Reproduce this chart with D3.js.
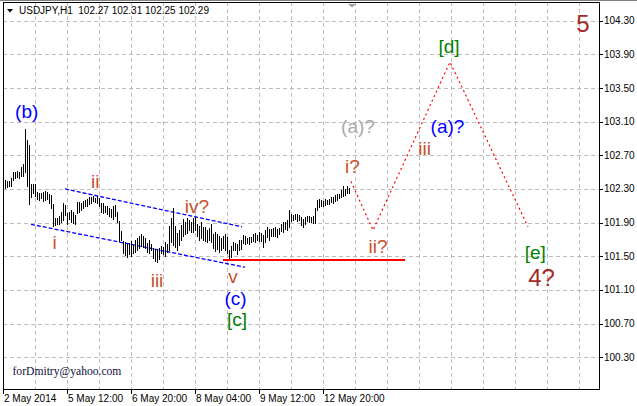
<!DOCTYPE html>
<html><head><meta charset="utf-8">
<script src="https://cdn.jsdelivr.net/npm/d3@7"></script>
<style>html,body{margin:0;padding:0;background:#fff;overflow:hidden} svg{display:block}</style>
</head><body>
<svg id="c" width="637" height="406"></svg>
<script>
// ---- data ----
const symbol = "USDJPY,H1";
const lastQuote = [102.27, 102.31, 102.25, 102.29];
const highs = [102.41,102.40,102.40,102.43,102.50,102.50,102.51,102.50,102.56,102.60,
103.01,102.88,102.82,102.36,102.36,102.36,102.26,102.25,102.25,102.26,
102.28,102.26,102.24,102.23,102.12,101.96,101.96,101.98,102.03,102.13,
102.11,102.01,102.03,102.05,102.03,101.99,102.15,102.15,102.13,102.16,
102.17,102.18,102.20,102.20,102.22,102.19,102.22,102.19,102.13,102.13,
102.10,102.10,102.07,102.06,102.10,102.11,102.03,101.92,101.80,101.68,
101.67,101.65,101.66,101.68,101.63,101.69,101.72,101.74,101.77,101.74,
101.72,101.66,101.69,101.65,101.60,101.59,101.58,101.60,101.62,101.61,
101.67,101.65,101.86,101.96,102.07,101.86,101.78,101.81,101.87,101.94,
101.91,101.96,101.93,101.91,101.96,101.97,101.88,101.86,101.91,101.85,
101.85,101.81,101.84,101.88,101.77,101.79,101.77,101.74,101.72,101.74,
101.77,101.73,101.58,101.62,101.67,101.66,101.65,101.69,101.69,101.75,
101.74,101.72,101.73,101.73,101.77,101.78,101.75,101.79,101.78,101.75,
101.81,101.85,101.82,101.82,101.84,101.85,101.82,101.84,101.88,101.91,
101.91,101.93,102.05,102.00,101.99,102.00,102.00,101.99,101.97,101.94,
101.97,101.98,101.98,101.97,101.98,102.07,102.17,102.18,102.17,102.16,
102.18,102.17,102.18,102.20,102.20,102.23,102.24,102.24,102.29,102.34,
102.30,102.34,102.31];
const lows = [102.31,102.32,102.34,102.34,102.41,102.43,102.44,102.43,102.45,102.45,
102.50,102.34,102.12,102.20,102.25,102.22,102.18,102.17,102.19,102.16,
102.17,102.18,102.13,102.07,101.86,101.87,101.88,101.88,101.91,101.93,
101.99,101.88,101.94,101.91,101.90,101.88,102.01,102.03,102.05,102.07,
102.10,102.10,102.12,102.13,102.16,102.15,102.13,102.10,102.03,102.01,
102.03,102.00,101.98,101.97,101.94,101.98,101.91,101.68,101.69,101.54,
101.52,101.49,101.53,101.50,101.54,101.55,101.58,101.60,101.62,101.61,
101.60,101.55,101.54,101.58,101.48,101.44,101.43,101.47,101.54,101.53,
101.50,101.55,101.58,101.67,101.63,101.61,101.58,101.63,101.69,101.74,
101.77,101.78,101.81,101.79,101.79,101.81,101.74,101.69,101.72,101.69,
101.68,101.67,101.69,101.67,101.60,101.56,101.59,101.55,101.58,101.60,
101.58,101.54,101.46,101.49,101.58,101.58,101.53,101.58,101.59,101.66,
101.65,101.66,101.65,101.67,101.68,101.67,101.69,101.68,101.68,101.61,
101.67,101.73,101.69,101.74,101.74,101.74,101.73,101.77,101.80,101.79,
101.82,101.81,101.85,101.92,101.93,101.94,101.92,101.93,101.87,101.85,
101.88,101.92,101.91,101.91,101.90,101.90,102.05,102.09,102.10,102.10,
102.11,102.12,102.12,102.15,102.13,102.16,102.17,102.19,102.20,102.22,
102.23,102.25,102.25];
const priceTicks = [104.30,103.90,103.50,103.10,102.70,102.30,101.90,101.50,101.10,100.70,100.30];
const timeLabels = ["2 May 2014","5 May 12:00","6 May 20:00","8 May 04:00","9 May 12:00","12 May 20:00"];
const timeIndex = [-1, 31, 63, 95, 127, 159];
// projected wave path (bar index, price)
const waveIndex = [173, 184, 222.5, 261.5];
const wavePrice = [102.39, 101.81, 103.81, 101.85];
// support line
const supportIndex = [109, 200];
const supportPrice = 101.46;
// channel
const upperIndex = [30, 118.5], upperPrice = [102.30, 101.85];
const lowerIndex = [13, 120], lowerPrice = [101.88, 101.37];
// wave labels
const labelText  = ["(b)","i","ii","iii","iv?","v","(c)","[c]","i?","ii?","iii","(a)?","(a)?","[d]","[e]","4?","5"];
const labelIndex = [10.85,24.85,45.15,76,96,114,115.25,116,173.75,186.5,209.85,176.5,221.25,222,265.15,268.25,289];
const labelPrice = [103.14,101.59,102.31,101.14,102.02,101.18,100.92,100.67,102.49,101.54,102.70,102.96,102.96,103.92,101.47,101.15,104.17];
const labelKind  = ["blue","minor","minor","minor","minor","minor","blue","green","minor","minor","minor","gray","blue","green","green","big","big"];
const watermark = "forDmitry@yahoo.com";

// ---- drawing ----
const svg = d3.select("#c");
const L = 3, R = 599, T = 2, B = 389;
const x = d3.scaleLinear().domain([-1, 297]).range([L, R]);
const y = d3.scaleLinear().domain([99.923, 104.522]).range([B, T]);
const kindColor = {blue:"#0000ff", minor:"#c8502a", green:"#008000", gray:"#a9a9a9", big:"#a52a2a"};
const kindSize = {blue:19, minor:19, green:19, gray:19, big:24};
const font = "'Liberation Sans', Arial, sans-serif";

svg.append("rect").attr("width",637).attr("height",406).attr("fill","#fff");

// grid
const grid = svg.append("g").attr("stroke","#bdbdbd").attr("stroke-dasharray","4,3").attr("shape-rendering","crispEdges");
grid.selectAll("line.h").data(priceTicks).join("line").attr("class","h")
  .attr("x1",L).attr("x2",R).attr("y1",d=>Math.round(y(d))+0.5).attr("y2",d=>Math.round(y(d))+0.5);
grid.selectAll("line.v").data(d3.range(15, 297, 16)).join("line").attr("class","v")
  .attr("y1",T).attr("y2",B).attr("x1",d=>Math.round(x(d))+0.5).attr("x2",d=>Math.round(x(d))+0.5);

// watermark
svg.append("text").attr("x",12.5).attr("y",375).attr("font-family","'Liberation Serif', 'Times New Roman', serif")
  .attr("font-size",11.6).attr("fill","#101040").text(watermark);

// channel lines
const chan = svg.append("g").attr("stroke","#0000ff").attr("stroke-width",1.3).attr("stroke-dasharray","4,2").attr("fill","none");
chan.append("line").attr("x1",x(upperIndex[0])).attr("y1",y(upperPrice[0])).attr("x2",x(upperIndex[1])).attr("y2",y(upperPrice[1]));
chan.append("line").attr("x1",x(lowerIndex[0])).attr("y1",y(lowerPrice[0])).attr("x2",x(lowerIndex[1])).attr("y2",y(lowerPrice[1]));

// bars
svg.append("g").attr("stroke","#000").attr("shape-rendering","crispEdges")
  .selectAll("line").data(highs.map((h,i)=>({i,h,l:lows[i]}))).join("line")
  .attr("x1",d=>Math.round(x(d.i))+0.5).attr("x2",d=>Math.round(x(d.i))+0.5)
  .attr("y1",d=>Math.round(y(d.h))).attr("y2",d=>Math.round(y(d.l))+1);

// support line
svg.append("line").attr("stroke","#ff0000").attr("stroke-width",2).attr("shape-rendering","crispEdges")
  .attr("x1",x(supportIndex[0])).attr("x2",x(supportIndex[1]))
  .attr("y1",Math.round(y(supportPrice))).attr("y2",Math.round(y(supportPrice)));

// wave path
svg.append("path").attr("fill","none").attr("stroke","#ff0000").attr("stroke-width",1.2).attr("stroke-dasharray","2,3")
  .attr("d", d3.line().x(d=>x(d[0])).y(d=>y(d[1]))(waveIndex.map((v,i)=>[v,wavePrice[i]])));

// labels
svg.append("g").selectAll("text").data(labelText.map((t,i)=>({t,i:labelIndex[i],p:labelPrice[i],k:labelKind[i]}))).join("text")
  .attr("x",d=>x(d.i)).attr("y",d=>y(d.p)).attr("text-anchor","middle")
  .attr("font-family",font).attr("font-size",d=>kindSize[d.k]).attr("fill",d=>kindColor[d.k]).text(d=>d.t);

// frame
svg.append("line").attr("x1",0).attr("x2",637).attr("y1",0.5).attr("y2",0.5).attr("stroke","#808080");
svg.append("rect").attr("x",L+0.5).attr("y",T+0.5).attr("width",R-L).attr("height",B-T)
  .attr("fill","none").attr("stroke","#000").attr("shape-rendering","crispEdges");

// right axis
const ra = svg.append("g");
ra.selectAll("line").data(priceTicks).join("line").attr("stroke","#000").attr("shape-rendering","crispEdges")
  .attr("x1",R).attr("x2",R+4).attr("y1",d=>Math.round(y(d))+0.5).attr("y2",d=>Math.round(y(d))+0.5);
ra.selectAll("text").data(priceTicks).join("text").attr("x",R+5).attr("y",d=>y(d)+3.5)
  .attr("font-family",font).attr("font-size",10).attr("fill","#000").text(d=>d.toFixed(2));

// bottom axis
const ba = svg.append("g");
ba.selectAll("line").data(timeIndex).join("line").attr("stroke","#000").attr("shape-rendering","crispEdges")
  .attr("x1",d=>Math.round(x(d))+0.5).attr("x2",d=>Math.round(x(d))+0.5).attr("y1",B).attr("y2",B+5);
ba.selectAll("text").data(timeLabels).join("text").attr("x",(d,i)=>x(timeIndex[i])+1).attr("y",401.5)
  .attr("font-family",font).attr("font-size",10).attr("fill","#000").text(d=>d);

// title
svg.append("path").attr("d","M7,9 L13,9 L10,12.5 Z").attr("fill","#000");
svg.append("text").attr("x",19).attr("y",14).attr("font-family",font).attr("font-size",10).attr("fill","#000")
  .attr("xml:space","preserve").style("white-space","pre")
  .text(symbol + "  " + lastQuote.map(v=>v.toFixed(2)).join(" "));
// chart shift marker
svg.append("path").attr("d",`M${x(171.5)},4 L${x(175.5)},4 L${x(173.5)},7.5 Z`).attr("fill","#a0a0a0");
</script>
</body></html>
